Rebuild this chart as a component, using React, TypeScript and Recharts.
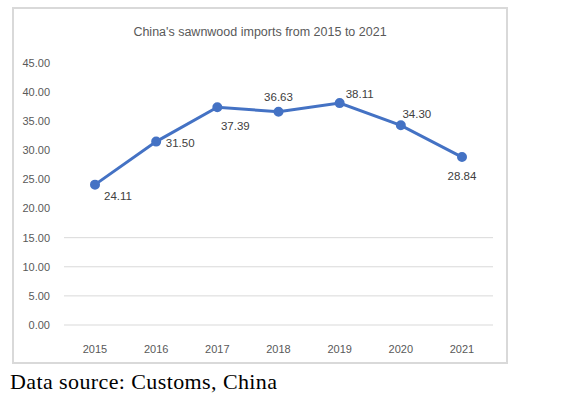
import { LineChart, Line, XAxis, YAxis, CartesianGrid, LabelList } from "recharts";

const years = ["2015", "2016", "2017", "2018", "2019", "2020", "2021"];
const imports = [24.11, 31.5, 37.39, 36.63, 38.11, 34.3, 28.84];
const yTicks = [0, 5, 10, 15, 20, 25, 30, 35, 40, 45];
const gridValues = [0, 5, 10, 15];

// label offsets relative to each point (dx, dy)
const labelOffsets = [
  [23, 11],
  [24, 1],
  [18, 19],
  [0, -15],
  [20, -9],
  [16, -11],
  [0, 19],
];

const chartData = years.map((y, i) => ({ year: y, value: imports[i] }));

const FONT = "'Liberation Sans', Arial, sans-serif";

function PointLabel(props: any) {
  const { x, y, index, value } = props;
  const [dx, dy] = labelOffsets[index] || [0, -10];
  return (
    <text
      x={x + dx}
      y={y + dy}
      textAnchor="middle"
      dominantBaseline="central"
      fontSize={11.5}
      fontFamily={FONT}
      fill="#404040"
    >
      {Number(value).toFixed(2)}
    </text>
  );
}

export default function App() {
  return (
    <div style={{ position: "absolute", left: 0, top: 0, width: 584, height: 399, background: "#fff" }}>
      <div
        style={{
          position: "absolute",
          left: 12,
          top: 7,
          width: 496,
          height: 357,
          border: "2px solid #d9d9d9",
          boxSizing: "border-box",
        }}
      />
      <div
        style={{
          position: "absolute",
          left: 13,
          top: 25,
          width: 494,
          textAlign: "center",
          fontFamily: FONT,
          fontSize: 12.5,
          color: "#595959",
        }}
      >
        China's sawnwood imports from 2015 to 2021
      </div>
      <div style={{ position: "absolute", left: 13, top: 8 }}>
        <LineChart width={494} height={356} data={chartData} margin={{ top: 55, right: 14, bottom: 9, left: 0 }}>
          <CartesianGrid vertical={false} stroke="#d9d9d9" horizontalValues={gridValues} />
          <XAxis
            dataKey="year"
            axisLine={false}
            tickLine={false}
            height={30}
            tickMargin={14}
            padding={{ left: 31, right: 31 }}
            tick={{ fontSize: 11, fontFamily: FONT, fill: "#595959" }}
          />
          <YAxis
            domain={[0, 45]}
            ticks={yTicks}
            axisLine={false}
            tickLine={false}
            width={51}
            tickMargin={8}
            tickFormatter={(v: number) => v.toFixed(2)}
            tick={{ fontSize: 11, fontFamily: FONT, fill: "#595959" }}
          />
          <Line
            dataKey="value"
            stroke="#4472c4"
            strokeWidth={3}
            dot={{ r: 3.5, fill: "#4472c4", stroke: "#4472c4" }}
            isAnimationActive={false}
          >
            <LabelList dataKey="value" content={PointLabel} />
          </Line>
        </LineChart>
      </div>
      <div
        style={{
          position: "absolute",
          left: 10,
          top: 369,
          fontFamily: "'Liberation Serif', 'Times New Roman', serif",
          fontSize: 22,
          letterSpacing: 0.4,
          color: "#000",
          whiteSpace: "nowrap",
        }}
      >
        Data source: Customs, China
      </div>
    </div>
  );
}
